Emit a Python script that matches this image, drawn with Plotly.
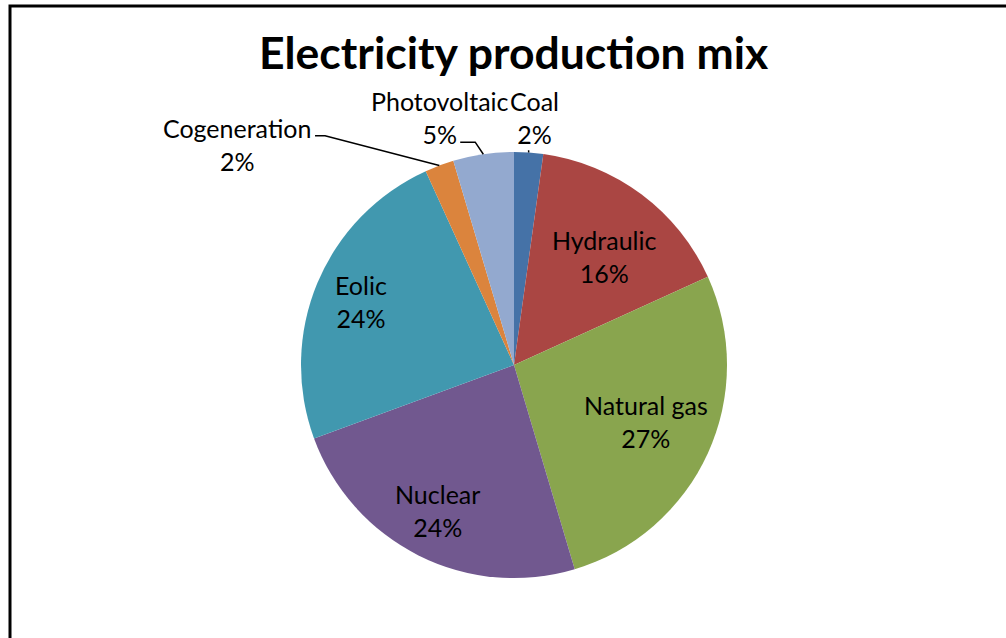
import math
import plotly.graph_objects as go

# ---- data ----
sources = ["Coal", "Hydraulic", "Natural gas", "Nuclear", "Eolic", "Cogeneration", "Photovoltaic"]
shares = [2.2, 16.0, 27.2, 24.0, 23.8, 2.2, 4.6]
colors = ["#4572A7", "#AA4643", "#89A54E", "#71588F", "#4198AF", "#DB843D", "#93A9CF"]
title_text = "Electricity production mix"

# ---- layout / style ----
W, H = 1006, 638
CX, CY, R = 514, 365, 213          # pie centre and radius in pixels
FONT = "Lato, Calibri, sans-serif"

# label placement: (radius as fraction of R, angle offset in degrees from slice middle)
label_place = {
    "Coal": (1.167, 0.8),
    "Hydraulic": (0.665, 3.2),
    "Natural gas": (0.673, -1.1),
    "Nuclear": (0.773, 1.0),
    "Eolic": (0.778, 0.0),
    "Cogeneration": (1.661, -31.0),
    "Photovoltaic": (1.214, -8.3),
}
# leader line offsets from label centre: list of points, then the slice edge
leaders = {
    "Coal": [(-6, 33)],
    "Cogeneration": [(78, -9), (88, -9)],
    "Photovoltaic": [(20, 25), (35, 25)],
}


def px(x):
    return x / W


def py(y):
    return 1 - y / H


fig = go.Figure()
fig.add_trace(go.Pie(
    labels=sources,
    values=shares,
    sort=False,
    direction="clockwise",
    rotation=0,
    marker=dict(colors=colors, line=dict(width=0)),
    textinfo="none",
    hoverinfo="label+percent",
    showlegend=False,
    domain=dict(x=[px(CX - R), px(CX + R)], y=[py(CY + R), py(CY - R)]),
))

total = sum(shares)
annotations = []
shapes = []
cum = 0.0
for name, v in zip(sources, shares):
    mid = (cum + v / 2) / total * 360.0
    cum += v
    rf, off = label_place[name]
    a = math.radians(mid + off)
    lx = CX + rf * R * math.sin(a)
    ly = CY - rf * R * math.cos(a)
    pct = round(v / total * 100)
    annotations.append(dict(
        x=px(lx), y=py(ly), xref="paper", yref="paper",
        text=f"{name}<br>{pct}%", showarrow=False,
        font=dict(family=FONT, size=25, color="#000000"),
        xanchor="center", yanchor="middle", align="center",
    ))
    if name in leaders:
        am = math.radians(mid)
        ex = CX + R * math.sin(am)
        ey = CY - R * math.cos(am)
        pts = [(lx + dx, ly + dy) for dx, dy in leaders[name]] + [(ex, ey)]
        path = "M " + " L ".join(f"{px(x):.5f},{py(y):.5f}" for x, y in pts)
        shapes.append(dict(type="path", path=path, xref="paper", yref="paper",
                           line=dict(color="#000000", width=1.5)))

# chart frame
shapes.append(dict(type="rect", xref="paper", yref="paper",
                   x0=px(10), x1=px(1012), y0=py(645), y1=py(6),
                   line=dict(color="#000000", width=3)))

annotations.append(dict(
    x=px(514), y=py(51), xref="paper", yref="paper",
    text=f"<b>{title_text}</b>", showarrow=False,
    font=dict(family=FONT, size=44.5, color="#000000"),
    xanchor="center", yanchor="middle",
))

fig.update_layout(
    width=W, height=H,
    margin=dict(l=0, r=0, t=0, b=0),
    paper_bgcolor="#FFFFFF",
    plot_bgcolor="#FFFFFF",
    annotations=annotations,
    shapes=shapes,
)

fig.write_html("out.html", config={"displayModeBar": False},
               post_script="document.body.style.margin='0';")
